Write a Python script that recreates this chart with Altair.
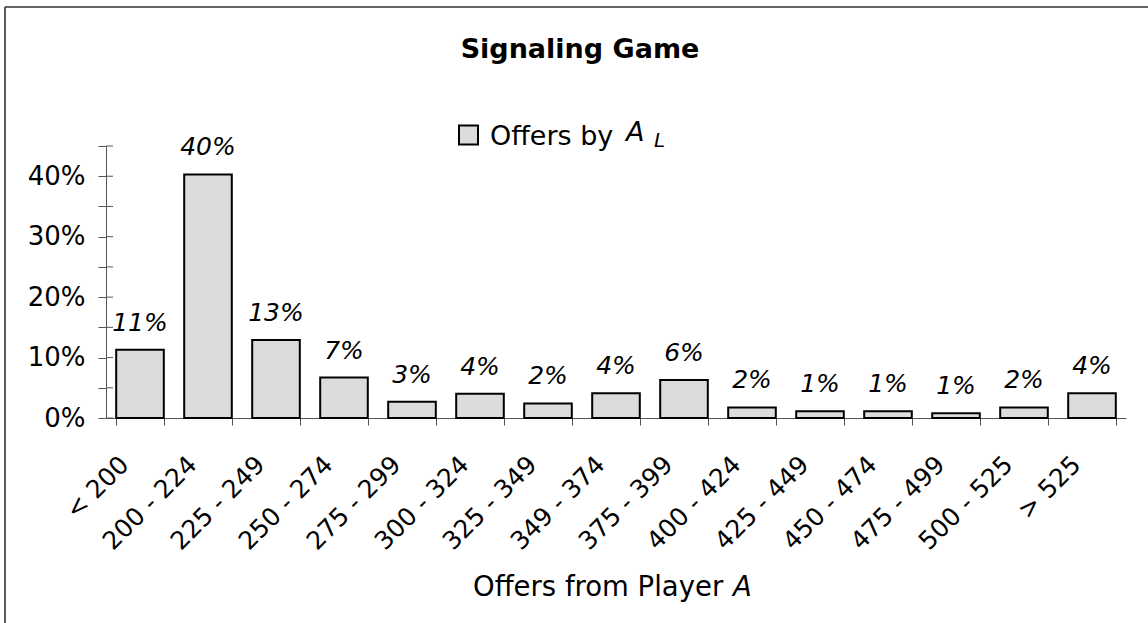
import altair as alt
import pandas as pd

categories = ["< 200", "200 - 224", "225 - 249", "250 - 274", "275 - 299",
              "300 - 324", "325 - 349", "349 - 374", "375 - 399", "400 - 424",
              "425 - 449", "450 - 474", "475 - 499", "500 - 525", "> 525"]
shares = [0.113, 0.403, 0.129, 0.067, 0.027, 0.040, 0.024, 0.041, 0.063,
          0.0175, 0.011, 0.011, 0.0077, 0.0175, 0.041]
y_ticks = [0.0, 0.05, 0.10, 0.15, 0.20, 0.25, 0.30, 0.35, 0.40, 0.45]

FONT = "DejaVu Sans"
AXC = "#555555"

df = pd.DataFrame({"range": categories, "share": shares})

xenc = alt.X("range:N", sort=categories,
             scale=alt.Scale(paddingInner=0.3, paddingOuter=0.15),
             axis=alt.Axis(title=None, labelAngle=-45, labelAlign="right",
                           labelBaseline="middle", labelFontSize=25, labelFont=FONT,
                           labelColor="black", tickBand="extent", tickSize=7,
                           labelPadding=35, labelOffset=-16, domainColor=AXC,
                           tickColor=AXC, grid=False))
yenc = alt.Y("share:Q", scale=alt.Scale(domain=[0, 0.45], nice=False),
             axis=alt.Axis(title=None, values=y_ticks,
                           labelExpr="round(datum.value*100) % 10 == 0 ? format(datum.value, '.0%') : ''",
                           labelFontSize=26, labelFont=FONT, labelColor="black",
                           tickSize=8, labelPadding=13, domainColor=AXC,
                           tickColor=AXC, grid=False))

base = alt.Chart(df)
bars = base.mark_bar(fill="#dcdcdc", stroke="black", strokeWidth=2).encode(x=xenc, y=yenc)
labels = base.mark_text(font=FONT, fontSize=25, fontStyle="italic", baseline="alphabetic",
                        dy=-19, color="black").encode(
    x=xenc, y=yenc, text=alt.Text("share:Q", format=".0%"))

inner = alt.Chart(pd.DataFrame({"share": y_ticks})).mark_rule(color=AXC).encode(
    y=yenc, x=alt.value(0), x2=alt.value(7))

one = alt.Data(values=[{"k": 1}])

def txt(s, x, y, size=27, style="normal", weight="normal", align="left"):
    return alt.Chart(one).mark_text(text=s, font=FONT, fontSize=size, fontStyle=style,
                                    fontWeight=weight, align=align, baseline="alphabetic",
                                    color="black").encode(x=alt.value(x), y=alt.value(y))

title = txt("Signaling Game", 474, -88, size=27, weight="bold", align="center")
leg_sq = alt.Chart(one).mark_square(size=361, fill="#dcdcdc", stroke="black",
                                    strokeWidth=2, opacity=1).encode(
    x=alt.value(362.5), y=alt.value(-11))
leg_t = txt("Offers by", 384, -1, size=27)
leg_a = txt("A", 520, -5, size=27, style="italic")
leg_l = txt("L", 548, 1, size=20, style="italic")
xt1 = txt("Offers from Player", 367, 450, size=27.5)
xt2 = txt("A", 627, 450, size=27.5, style="italic")

frame_l = alt.Chart(one).mark_rule(color="#333333", strokeWidth=1.6).encode(
    x=alt.value(-101), y=alt.value(-139), y2=alt.value(477))
frame_t = alt.Chart(one).mark_rule(color="#333333", strokeWidth=1.6).encode(
    x=alt.value(-101), x2=alt.value(1042), y=alt.value(-139))

chart = alt.layer(bars, labels, inner, title, leg_sq, leg_t, leg_a, leg_l, xt1, xt2,
                  frame_l, frame_t).properties(
    width=1020, height=272,
    autosize=alt.AutoSizeParams(type="none"),
    padding={"left": 106, "top": 146, "right": 22, "bottom": 205},
    background="white",
).configure_view(stroke=None)

chart.save("out.html", embed_options={"renderer": "svg", "actions": False})
